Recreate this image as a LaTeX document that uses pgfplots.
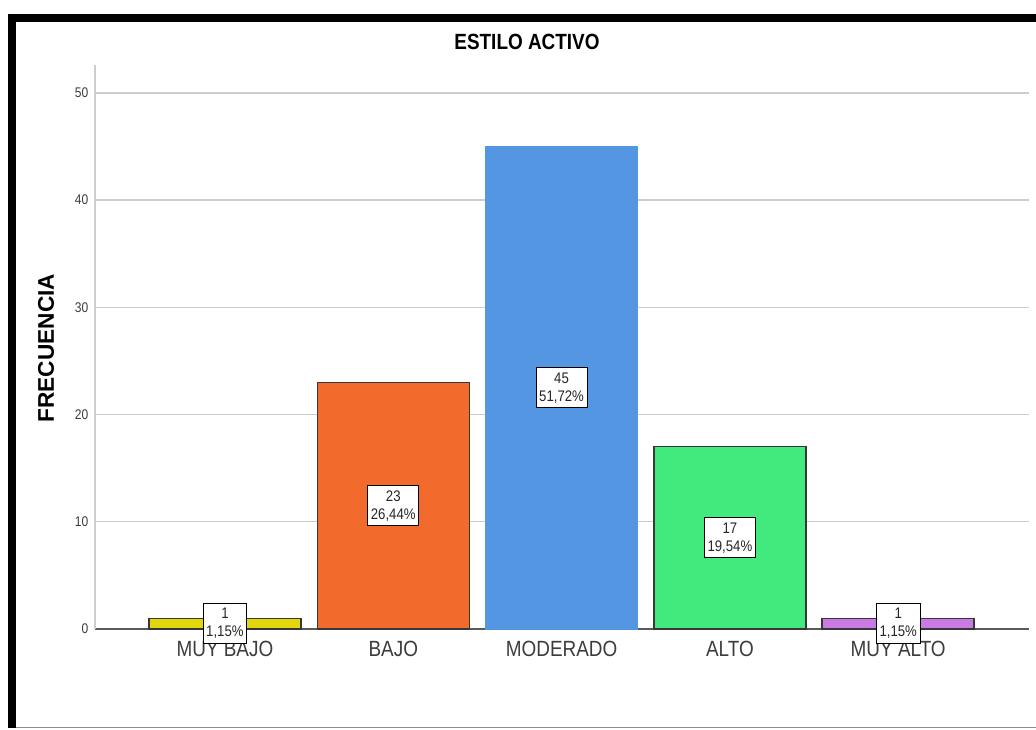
\documentclass[border=0pt]{standalone}
\usepackage{pgfplots}
\pgfplotsset{compat=1.18}
\usepackage{fontspec}
\setmainfont{Liberation Sans}
\newfontfamily\narrow[FakeStretch=0.86]{Liberation Sans}
\definecolor{cyel}{RGB}{226,214,12}
\definecolor{cora}{RGB}{242,106,44}
\definecolor{cblu}{RGB}{85,150,227}
\definecolor{cgrn}{RGB}{66,233,125}
\definecolor{cpur}{RGB}{201,123,227}
\definecolor{gridgray}{RGB}{205,205,205}
\definecolor{xaxgray}{RGB}{90,90,90}
\definecolor{ticktext}{RGB}{60,60,60}
\definecolor{edgegray}{RGB}{55,55,55}
\begin{document}
\begin{tikzpicture}[x=1pt,y=1pt]
\useasboundingbox (0,0) rectangle (777,547.5);
\fill[black] (6,531) rectangle (777,537);
\fill[black] (6,1.5) rectangle (12,537);
\draw[black!45, line width=0.75pt] (12,1.6) -- (777,1.6);
\begin{axis}[
  at={(71.25pt,75.75pt)}, anchor=south west,
  scale only axis, width=700.5pt, height=423pt,
  xmin=-0.772, xmax=4.777, ymin=0, ymax=52.6,
  axis lines*=left,
  x axis line style={draw=xaxgray, line width=1.1pt},
  y axis line style={draw=gridgray, line width=1.1pt},
  ytick={0,10,20,30,40,50},
  xtick={0,1,2,3,4},
  xticklabels={MUY BAJO, BAJO, MODERADO, ALTO, MUY ALTO},
  major tick length=0pt,
  ymajorgrids, grid style={draw=gridgray, line width=1.1pt},
  /pgf/number format/assume math mode=true,
  yticklabel style={font=\narrow\fontsize{10.5}{12}\selectfont, text=ticktext, anchor=east, xshift=-1.5pt},
  xticklabel style={font=\narrow\fontsize{16.5}{18}\selectfont, text=ticktext, anchor=north, inner sep=0pt, yshift=-9pt},
  title={ESTILO ACTIVO},
  title style={at={(0.4625,1.0266)}, anchor=center, font=\narrow\bfseries\fontsize{16.5}{18}\selectfont},
  ylabel={FRECUENCIA},
  ylabel style={at={(-0.0525,0.498)}, anchor=center, font=\bfseries\fontsize{17}{19}\selectfont},
  clip=false,
]
\pgfplotsset{mybar/.style={ybar, bar width=0.903, bar shift=0pt, draw=edgegray, line width=1.1pt}}
\addplot[mybar, fill=cyel] coordinates {(0,1)};
\addplot[mybar, fill=cora] coordinates {(1,23)};
\addplot[mybar, fill=cblu, draw=cblu, line width=0.2pt] coordinates {(2,45)};
\addplot[mybar, fill=cgrn] coordinates {(3,17)};
\addplot[mybar, fill=cpur] coordinates {(4,1)};
\addplot[draw=none, mark=none, point meta=explicit symbolic,
  nodes near coords, nodes near coords align={center},
  every node near coord/.append style={anchor=center, draw=black, line width=0.75pt, fill=white, align=center,
    text=black!85, inner xsep=2.4pt, inner ysep=3.5pt, font=\narrow\fontsize{11.5}{13.5}\selectfont}]
  coordinates {
    (0,0.5) [{1\\1,15\%}]
    (1,11.5) [{23\\26,44\%}]
    (2,22.5) [{45\\51,72\%}]
    (3,8.5) [{17\\19,54\%}]
    (4,0.5) [{1\\1,15\%}]
  };
\end{axis}
\end{tikzpicture}
\end{document}
